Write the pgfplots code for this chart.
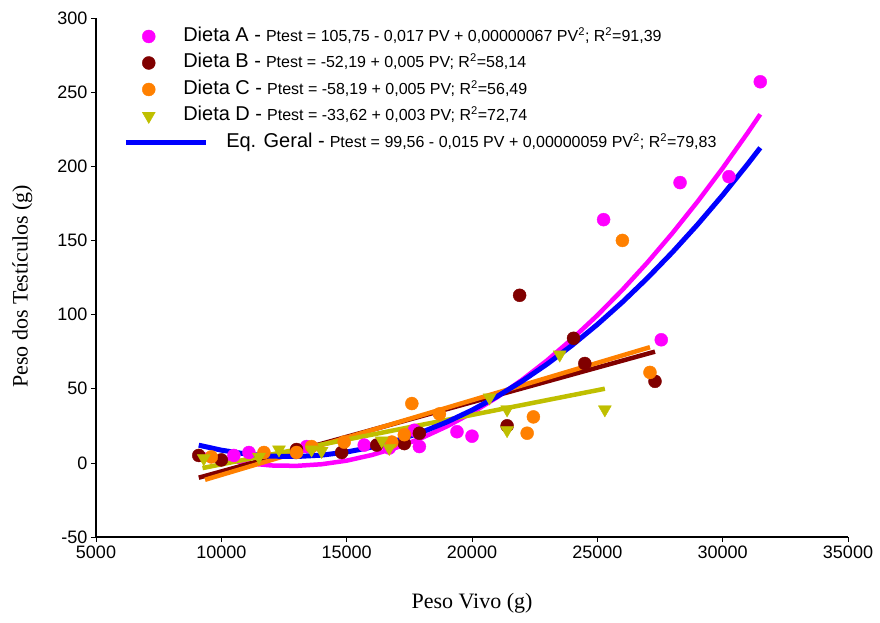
\documentclass[border=0pt]{standalone}
\usepackage{pgfplots}
\pgfplotsset{compat=1.18}
\usepackage{fontspec}
\setmainfont{Liberation Sans}
\newfontfamily\serif{Liberation Serif}

\definecolor{cA}{RGB}{255,0,255}
\definecolor{cB}{RGB}{128,0,0}
\definecolor{cC}{RGB}{255,128,0}
\definecolor{cD}{RGB}{191,191,0}
\definecolor{cG}{RGB}{0,0,255}

\pgfplotsset{
    markleg/.style={legend image code/.code={\draw[##1] plot coordinates {(23pt,0pt)};}},
    lineleg/.style={legend image code/.code={\draw[##1] (0pt,0pt) -- (80pt,0pt);}},
}

% legend text: big series name, small equation
\newcommand{\ent}[3]{\hspace*{#1}{\fontsize{20}{22}\selectfont #2 -}\hspace{5pt}{\fontsize{16}{18}\selectfont #3}}

\begin{document}
\begin{tikzpicture}
\path[use as bounding box] (-96pt,-85pt) rectangle (784pt,537pt);
\begin{axis}[
    scale only axis, width=752pt, height=519pt,
    xmin=5000, xmax=35000, ymin=-50, ymax=300,
    xtick={5000,10000,...,35000}, ytick={-50,0,...,300},
    axis x line*=bottom, axis y line*=left,
    axis line style={line width=2.5pt, black},
    tick align=outside, major tick length=5pt,
    tick style={black, line width=0.6pt},
    scaled ticks=false,
    /pgf/number format/1000 sep={},
    /pgf/number format/assume math mode=true,
    ticklabel style={font=\fontsize{18}{20}\selectfont},
    xlabel={Peso Vivo (g)}, ylabel={Peso dos Testículos (g)},
    label style={font=\serif\fontsize{22}{24}\selectfont},
    xlabel style={at={(axis description cs:0.5,-0.127)}, anchor=center},
    ylabel style={at={(axis description cs:-0.098,0.483)}, anchor=center},
    legend cell align=left,
    legend style={draw=none, fill=none, at={(axis description cs:0.032,0.986)},
        anchor=north west, column sep=21pt, row sep=8.5pt,
        nodes={inner sep=0pt, text height=14pt, text depth=4pt}},
]
% trend lines of each diet
\addplot[cA, line width=4.5pt, forget plot] coordinates {
(9100,6.53)(10000,2.75)(11000,-0.18)(12000,-1.77)(13000,-2.02)(14000,-0.93)
(15000,1.5)(16000,5.27)(17000,10.38)(18000,16.83)(19000,24.62)(20000,33.75)
(21000,44.22)(22000,56.03)(23000,69.18)(24000,83.67)(25000,99.5)(26000,116.67)
(27000,135.18)(28000,155.03)(29000,176.22)(30000,198.75)(31000,222.62)(31500,235.06)};
\addplot[cB, line width=4.5pt, forget plot] coordinates {(9100,-10)(27300,75)};
\addplot[cC, line width=4.5pt, forget plot] coordinates {(9350,-11.4)(27100,78)};
\addplot[cD, line width=4.5pt, forget plot] coordinates {(9250,-3.5)(25300,50)};

% observed points
\addplot[only marks, mark=*, mark size=6.5pt, cA, forget plot] coordinates {
(10500,5)(11100,7)(13400,11)(15700,12)(16700,10)(17700,22)(17900,11)
(19400,21)(20000,18)(25250,164)(27550,83)(28300,189)(30250,193)(31500,257)};
\addplot[only marks, mark=*, mark size=6.5pt, cB, forget plot] coordinates {
(9100,5)(10000,2)(13000,9)(14800,7)(16200,12)(17300,13)(17900,20)
(21400,25)(21900,113)(24050,84)(24500,67)(27300,55)};
\addplot[only marks, mark=*, mark size=6.5pt, cC, forget plot] coordinates {
(9600,4)(11700,7)(13000,7)(13600,11)(14900,14)(16800,14)(17300,19)
(17600,40)(18700,33)(22200,20)(22450,31)(26000,150)(27100,61)};
\addplot[only marks, mark=triangle*, mark size=7.5pt, mark options={rotate=180}, cD, forget plot] coordinates {
(9300,3)(11500,4)(12300,9)(13600,9)(14000,8)(16400,15)(16700,10)
(20700,44)(21400,36)(21400,22)(23500,73)(25300,36)};

% general equation
\addplot[cG, line width=5pt, forget plot] coordinates {
(9100,11.92)(10000,8.56)(11000,5.95)(12000,4.52)(13000,4.27)(14000,5.2)
(15000,7.31)(16000,10.6)(17000,15.07)(18000,20.72)(19000,27.55)(20000,35.56)
(21000,44.75)(22000,55.12)(23000,66.67)(24000,79.4)(25000,93.31)(26000,108.4)
(27000,124.67)(28000,142.12)(29000,160.75)(30000,180.56)(31000,201.55)(31500,212.49)};

\addlegendimage{only marks, mark=*, mark size=6.5pt, cA, markleg}
\addlegendentry{\ent{-46pt}{Dieta A}{Ptest = 105,75 - 0,017 PV + 0,00000067 PV\textsuperscript{2}; R\textsuperscript{2}=91,39}}
\addlegendimage{only marks, mark=*, mark size=6.5pt, cB, markleg}
\addlegendentry{\ent{-46pt}{Dieta B}{Ptest = -52,19 + 0,005 PV; R\textsuperscript{2}=58,14}}
\addlegendimage{only marks, mark=*, mark size=6.5pt, cC, markleg}
\addlegendentry{\ent{-46pt}{Dieta C}{Ptest = -58,19 + 0,005 PV; R\textsuperscript{2}=56,49}}
\addlegendimage{only marks, mark=triangle*, mark size=7.5pt, mark options={rotate=180}, cD, markleg}
\addlegendentry{\ent{-46pt}{Dieta D}{Ptest = -33,62 + 0,003 PV; R\textsuperscript{2}=72,74}}
\addlegendimage{cG, line width=5pt, lineleg}
\addlegendentry{\ent{-3pt}{Eq. Geral}{Ptest = 99,56 - 0,015 PV + 0,00000059 PV\textsuperscript{2}; R\textsuperscript{2}=79,83}}
\end{axis}
\end{tikzpicture}
\end{document}
